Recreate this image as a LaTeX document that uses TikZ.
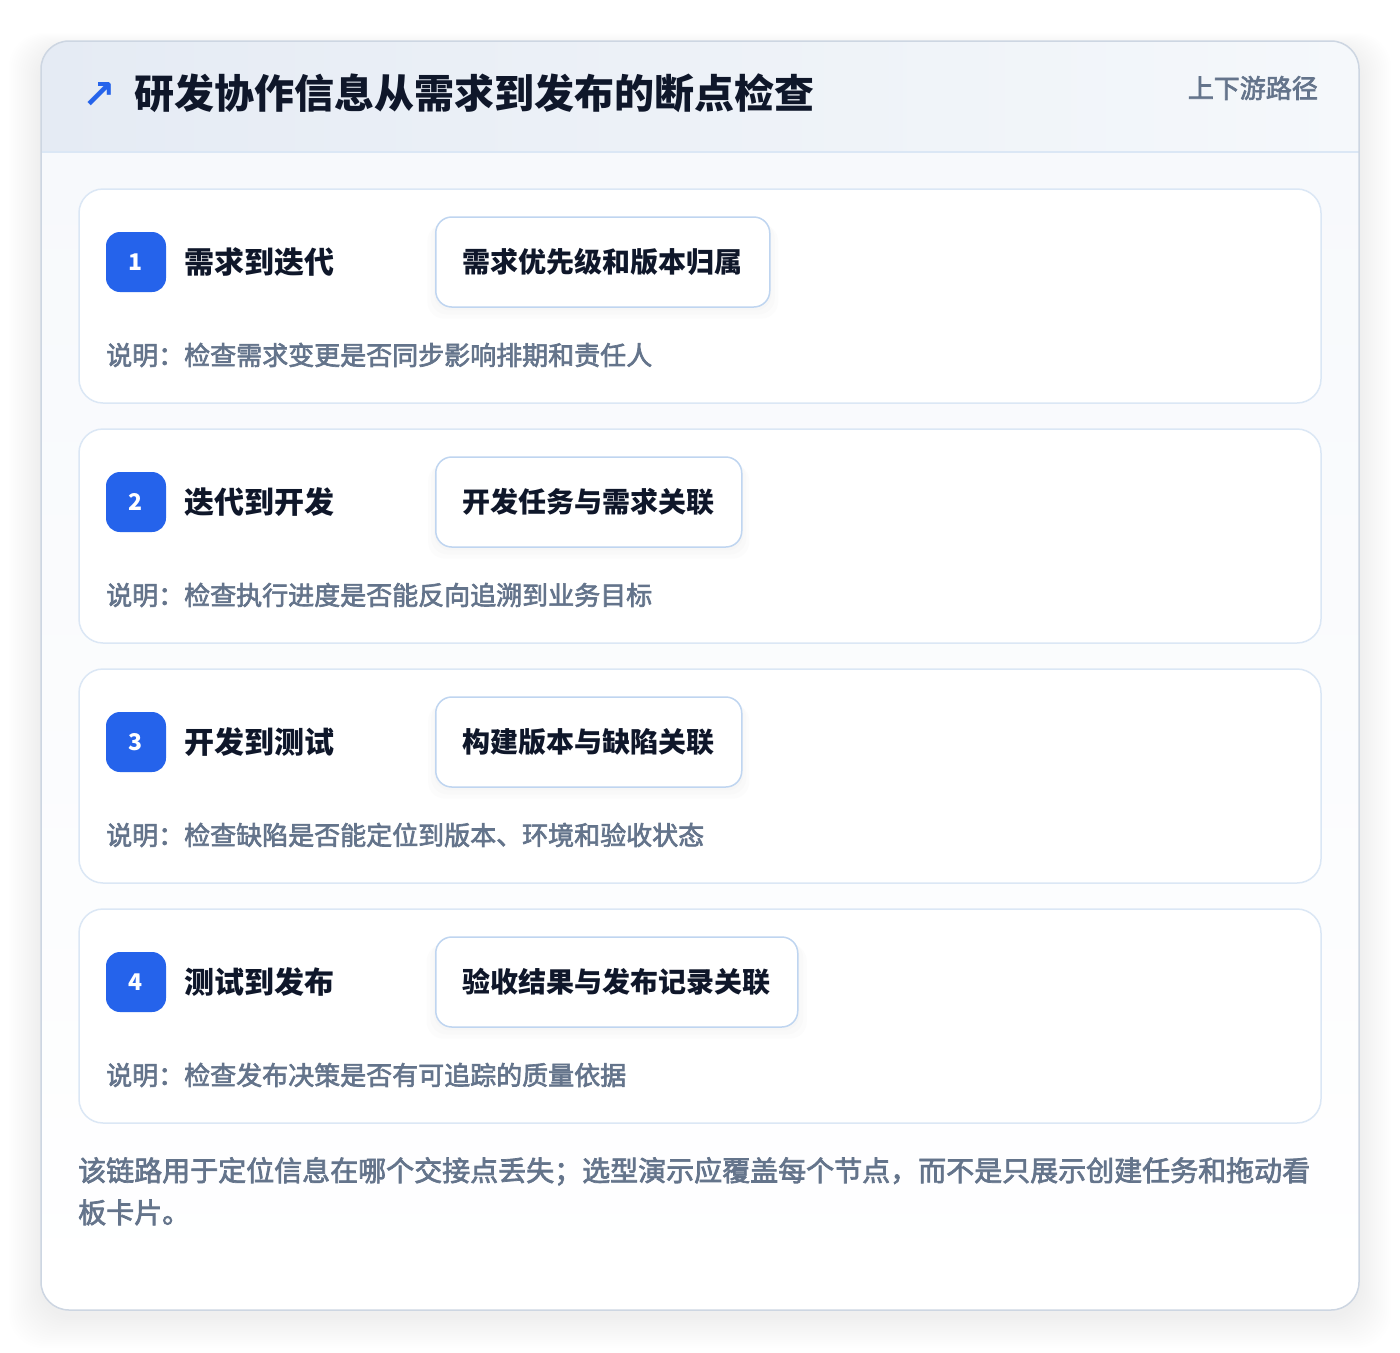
\documentclass[tikz,border=0pt]{standalone}
\usepackage{fontspec}
\setmainfont{Noto Sans CJK SC}
\newfontfamily\medfont{Noto Sans CJK SC}[FakeBold=2.5]
\newfontfamily\symfont{DejaVu Sans}
\usetikzlibrary{positioning}
\usetikzlibrary{shadows}

\definecolor{accentblue}{HTML}{2563EB}
\definecolor{inkdark}{HTML}{0F172A}
\definecolor{muted}{HTML}{64748B}
\definecolor{cardline}{HTML}{DBE7F5}
\definecolor{chipline}{HTML}{BFD5F0}
\definecolor{outerline}{HTML}{CDD6E2}
\definecolor{headleft}{HTML}{E5EBF4}
\definecolor{headright}{HTML}{F5F8FB}
\definecolor{bodytop}{HTML}{F7F9FC}

\begin{document}
\begin{tikzpicture}[x=1pt,y=-1pt,
  cardbox/.style={draw=cardline,fill=white,line width=1.5pt,rounded corners=24pt},
  badge/.style={fill=accentblue,rounded corners=14pt,minimum size=60pt,inner sep=0pt,
    text=white,font=\bfseries\fontsize{23}{23}\selectfont},
  steptitle/.style={inner sep=0pt,anchor=west,text=inkdark,font=\bfseries\fontsize{30}{30}\selectfont},
  chipbox/.style={draw=chipline,fill=white,line width=1.5pt,rounded corners=16pt,
    minimum height=90pt,inner xsep=27pt,anchor=west,text=inkdark,
    font=\bfseries\fontsize{28}{28}\selectfont,
    drop shadow={opacity=0.025,shadow xshift=0pt,shadow yshift=-3pt,shadow scale=1.01},
    drop shadow={opacity=0.025,shadow xshift=0pt,shadow yshift=-6pt,shadow scale=1.03},
    drop shadow={opacity=0.02,shadow xshift=0pt,shadow yshift=-9pt,shadow scale=1.05}},
  notetext/.style={inner sep=0pt,anchor=west,text=muted,font=\medfont\fontsize{26}{26}\selectfont},
  foottext/.style={inner sep=0pt,anchor=base west,text=muted,font=\medfont\fontsize{28}{42}\selectfont}]
\fill[white] (0,0) rectangle (1400,1352);
\useasboundingbox (0,0) rectangle (1400,1352);

% soft shadow of the panel
\foreach \k in {1,...,16}
  \fill[black,opacity=0.005,rounded corners=34pt] (41-\k*2,41+8-\k) rectangle (1359+\k*2,1310+6+\k*2);

\begin{scope}
\clip[rounded corners=28pt] (41,41) rectangle (1359,1310);
\fill[top color=bodytop,bottom color=white] (41,152) rectangle (1359,1310);
\fill[left color=headleft,right color=headright] (41,41) rectangle (1359,152);
\end{scope}
\draw[cardline,line width=1.5pt] (41,152) -- (1359,152);
\draw[outerline,line width=1.5pt,rounded corners=28pt] (41,41) rectangle (1359,1310);

% header
\node[inner sep=0pt,anchor=west,text=accentblue,font=\symfont\bfseries\fontsize{40}{40}\selectfont] (arrow) at (82,95) {↗};
\node[inner sep=0pt,anchor=west,text=inkdark,font=\bfseries\fontsize{40}{40}\selectfont] (title) at (134,93) {研发协作信息从需求到发布的断点检查};
\node[inner sep=0pt,anchor=east,text=muted,font=\medfont\fontsize{26}{26}\selectfont] (tag) at (1318,88) {上下游路径};

% steps
\foreach \i/\stepname/\chiptext/\notetxt in {
  1/需求到迭代/需求优先级和版本归属/检查需求变更是否同步影响排期和责任人,
  2/迭代到开发/开发任务与需求关联/检查执行进度是否能反向追溯到业务目标,
  3/开发到测试/构建版本与缺陷关联/检查缺陷是否能定位到版本、环境和验收状态,
  4/测试到发布/验收结果与发布记录关联/检查发布决策是否有可追踪的质量依据}{
  \pgfmathsetmacro\cardtop{189+(\i-1)*240}
  \draw[cardbox] (79,\cardtop) rectangle (1321,\cardtop+214);
  \node[badge] (badge\i) at (136,\cardtop+73) {\i};
  \node[steptitle,right=18pt of badge\i] (step\i) {\stepname};
  \node[chipbox] (chip\i) at (435,\cardtop+73) {\chiptext};
  \node[notetext] (note\i) at (106,\cardtop+166) {说明：\notetxt};
}

% footer
\node[foottext] (footA) at (78,1181) {该链路用于定位信息在哪个交接点丢失；选型演示应覆盖每个节点，而不是只展示创建任务和拖动看};
\node[foottext] (footB) at (78,1223) {板卡片。};
\end{tikzpicture}
\end{document}
